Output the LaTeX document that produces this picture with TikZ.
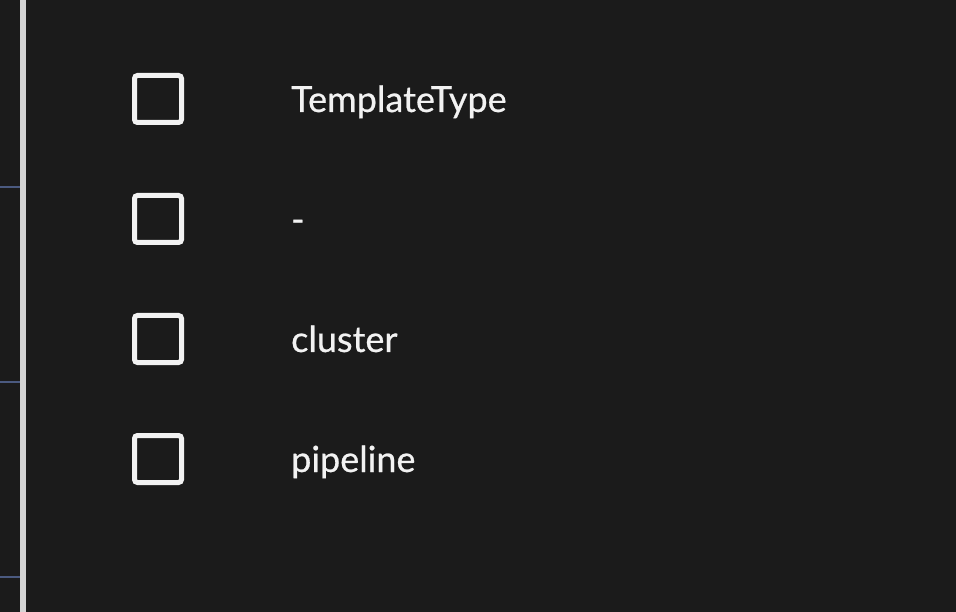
\documentclass[tikz,border=0pt]{standalone}
\usepackage{fontspec}
\setmainfont{Lato}
\definecolor{bg}{HTML}{1B1B1B}
\definecolor{fg}{HTML}{F2F2F2}
\definecolor{rule}{HTML}{D4D4D4}
\definecolor{tick}{HTML}{4B5A80}
\usetikzlibrary{positioning}

\begin{document}
\begin{tikzpicture}[x=1pt,y=-1pt,
	box/.style={draw=fg,line width=5pt,rounded corners=3pt,minimum size=47pt,inner sep=0pt},
	lbl/.style={text=fg,anchor=base west,inner sep=0pt,font=\fontsize{36}{40}\selectfont}]
	\fill[bg] (0,0) rectangle (956,612);
	\useasboundingbox (0,0) rectangle (956,612);
	\fill[rule] (20,0) rectangle (26,612);
	\foreach \y in {187,382,577}
		\fill[tick] (0,\y-1.4) rectangle (20,\y+1.4);
	\node[box] (b1) at (158,99) {};
	\node[box] (b2) at (158,219) {};
	\node[box] (b3) at (158,339) {};
	\node[box] (b4) at (158,459) {};
	\node[lbl] (t1) at (291,112) {\addfontfeature{FakeBold=0.6}TemplateType};
	\node[lbl] (t2) at (291,232) {\addfontfeature{FakeBold=0.6}-};
	\node[lbl] (t3) at (291,352) {\addfontfeature{FakeBold=0.6}cluster};
	\node[lbl] (t4) at (291,472) {\addfontfeature{FakeBold=0.6}pipeline};
\end{tikzpicture}
\end{document}
